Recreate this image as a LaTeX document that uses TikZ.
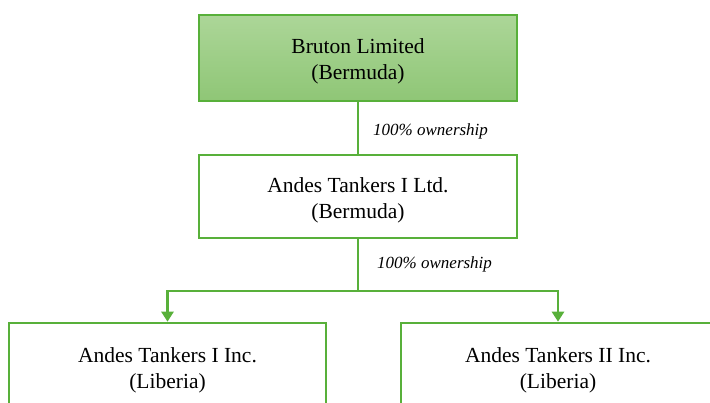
\documentclass[tikz,border=0pt]{standalone}
\usepackage{fontspec}
\setmainfont{Liberation Serif}
\usetikzlibrary{arrows.meta}
\definecolor{boxgreen}{RGB}{88,176,58}
\definecolor{filltop}{RGB}{172,214,152}
\definecolor{fillbot}{RGB}{143,198,118}
\tikzset{
  entity/.style={draw=boxgreen, line width=2.6pt, inner sep=0pt},
  etext/.style={align=center, inner sep=0pt, font=\fontsize{21.5}{26}\selectfont, text=black},
  toplevel/.style={entity, top color=filltop, bottom color=fillbot},
  plain/.style={entity, fill=white},
  conn/.style={draw=boxgreen, line width=2.6pt},
  arr/.style={conn, -{Triangle[length=10pt,width=12pt]}},
  lbl/.style={font=\fontsize{17}{20}\selectfont\itshape, anchor=west, inner sep=0pt}
}
\begin{document}
\begin{tikzpicture}[x=1pt,y=-1pt]
\useasboundingbox (0,0) rectangle (710,403);
\clip (0,0) rectangle (710,403);
\fill[white] (0,0) rectangle (710,403);
\node[toplevel, minimum width=318pt, minimum height=86pt,
  label={[etext, name=bruton-t, yshift=-3pt]center:Bruton Limited\\(Bermuda)}] (bruton) at (358,58) {};
\node[plain, minimum width=318pt, minimum height=83pt,
  label={[etext, name=andes-t, yshift=-4pt]center:Andes Tankers I Ltd.\\(Bermuda)}] (andes) at (358,196.5) {};
\node[plain, minimum width=317pt, minimum height=88pt,
  label={[etext, name=inc1-t, yshift=-3pt]center:Andes Tankers I Inc.\\(Liberia)}] (inc1) at (167.5,367) {};
\node[plain, minimum width=314pt, minimum height=88pt,
  label={[etext, name=inc2-t, yshift=-3pt]center:Andes Tankers II Inc.\\(Liberia)}] (inc2) at (558,367) {};
\coordinate (bus) at (358,291);
\draw[conn] (bruton.south) -- (andes.north);
\draw[conn] (andes.south) -- (bus);
\draw[arr] (bus) -| (inc1.north);
\draw[arr] (bus) -| (inc2.north);
\node[lbl] (l1) at (373,131) {100\% ownership};
\node[lbl] (l2) at (377,264) {100\% ownership};
\end{tikzpicture}
\end{document}
